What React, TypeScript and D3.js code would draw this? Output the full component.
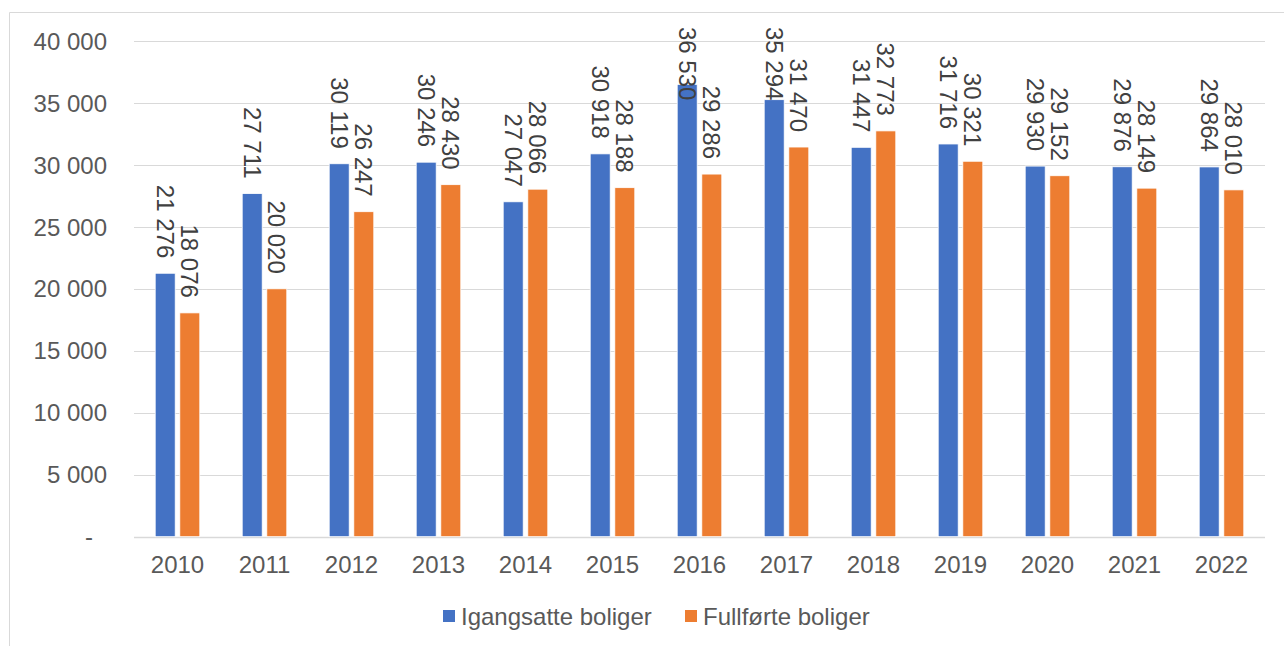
import React, { useEffect, useRef } from "react";
import * as d3 from "d3";

const years = ["2010", "2011", "2012", "2013", "2014", "2015", "2016", "2017", "2018", "2019", "2020", "2021", "2022"];
const igangsatte = [21276, 27711, 30119, 30246, 27047, 30918, 36530, 35294, 31447, 31716, 29930, 29876, 29864];
const fullforte = [18076, 20020, 26247, 28430, 28066, 28188, 29286, 31470, 32773, 30321, 29152, 28149, 28010];
const seriesNames = ["Igangsatte boliger", "Fullførte boliger"];
const seriesColors = ["#4472C4", "#ED7D31"];
const yTicks = [0, 5000, 10000, 15000, 20000, 25000, 30000, 35000, 40000];

const W = 1284;
const H = 646;
const FONT = "'Liberation Sans', Arial, sans-serif";
const TEXT = "#595959";
const GRID = "#d9d9d9";

export default function App() {
  const ref = useRef<SVGSVGElement | null>(null);

  useEffect(() => {
    const svg = d3.select(ref.current);
    svg.selectAll("*").remove();

    const left = 134, right = 1265, top = 41.4, bottom = 536.7;
    const x = d3.scaleBand<string>().domain(years).range([left, right]).paddingInner(0).paddingOuter(0);
    const y = d3.scaleLinear().domain([0, 40000]).range([bottom, top]);
    const locale = d3.formatLocale({ decimal: ",", thousands: " ", grouping: [3], currency: ["", " kr"] });
    const fmt = locale.format(",d");

    // chart border
    svg.append("line").attr("x1", 9.5).attr("x2", W).attr("y1", 12.5).attr("y2", 12.5).attr("stroke", GRID).attr("stroke-width", 1);
    svg.append("line").attr("x1", 9.5).attr("x2", 9.5).attr("y1", 12.5).attr("y2", H).attr("stroke", GRID).attr("stroke-width", 1);

    // gridlines
    const g = svg.append("g");
    g.selectAll("line.grid").data(yTicks).join("line")
      .attr("x1", left).attr("x2", right)
      .attr("y1", (d) => Math.round(y(d)) + 0.5).attr("y2", (d) => Math.round(y(d)) + 0.5)
      .attr("stroke", GRID).attr("stroke-width", d => d === 0 ? 1.3 : 1);

    // y tick labels
    g.selectAll("text.ytick").data(yTicks).join("text")
      .attr("x", (d) => (d === 0 ? 93 : 107))
      .attr("y", (d) => y(d))
      .attr("dy", "0.35em")
      .attr("text-anchor", "end")
      .attr("font-family", FONT).attr("font-size", 24).attr("fill", TEXT)
      .text((d) => (d === 0 ? "-" : fmt(d)));

    // x labels
    g.selectAll("text.xtick").data(years).join("text")
      .attr("x", (d) => (x(d) as number) + x.bandwidth() / 2)
      .attr("y", 573)
      .attr("text-anchor", "middle")
      .attr("font-family", FONT).attr("font-size", 24).attr("fill", TEXT)
      .text((d) => d);

    const series = [igangsatte, fullforte];
    const offsets = [-12.3, 12.3];
    const barW = 20;

    series.forEach((vals, si) => {
      const data = years.map((yr, i) => ({ yr, v: vals[i] }));
      const cx = (d: { yr: string }) => (x(d.yr) as number) + x.bandwidth() / 2 + offsets[si];
      g.append("g").selectAll("rect").data(data).join("rect")
        .attr("x", (d) => cx(d) - barW / 2)
        .attr("y", (d) => y(d.v))
        .attr("width", barW)
        .attr("height", (d) => y(0) - y(d.v))
        .attr("fill", seriesColors[si])
        .attr("stroke", "#ffffff").attr("stroke-width", 0.8);

      const lbl = g.append("g").selectAll("text").data(data).join("text")
        .attr("font-family", FONT).attr("font-size", 24).attr("fill", "#404040")
        .attr("text-anchor", "start")
        .attr("dy", "0.35em")
        .text((d) => fmt(d.v));
      lbl.each(function (d) {
        const el = this as SVGTextElement;
        const w = el.getComputedTextLength();
        const start = Math.max(27, y(d.v) - 15 - w);
        d3.select(el).attr("transform", `translate(${cx(d)},${start}) rotate(90)`);
      });
    });

    // legend
    const legend = [
      { name: seriesNames[0], color: seriesColors[0], sx: 443, tx: 461 },
      { name: seriesNames[1], color: seriesColors[1], sx: 685, tx: 703 },
    ];
    const lg = svg.append("g");
    lg.selectAll("rect").data(legend).join("rect")
      .attr("x", (d) => d.sx).attr("y", 610).attr("width", 12).attr("height", 12)
      .attr("fill", (d) => d.color);
    lg.selectAll("text").data(legend).join("text")
      .attr("x", (d) => d.tx).attr("y", 625)
      .attr("font-family", FONT).attr("font-size", 24).attr("fill", TEXT)
      .text((d) => d.name);
  }, []);

  return (
    <svg
      ref={ref}
      width={W}
      height={H}
      style={{ position: "absolute", left: 0, top: 0, background: "#ffffff" }}
    />
  );
}
